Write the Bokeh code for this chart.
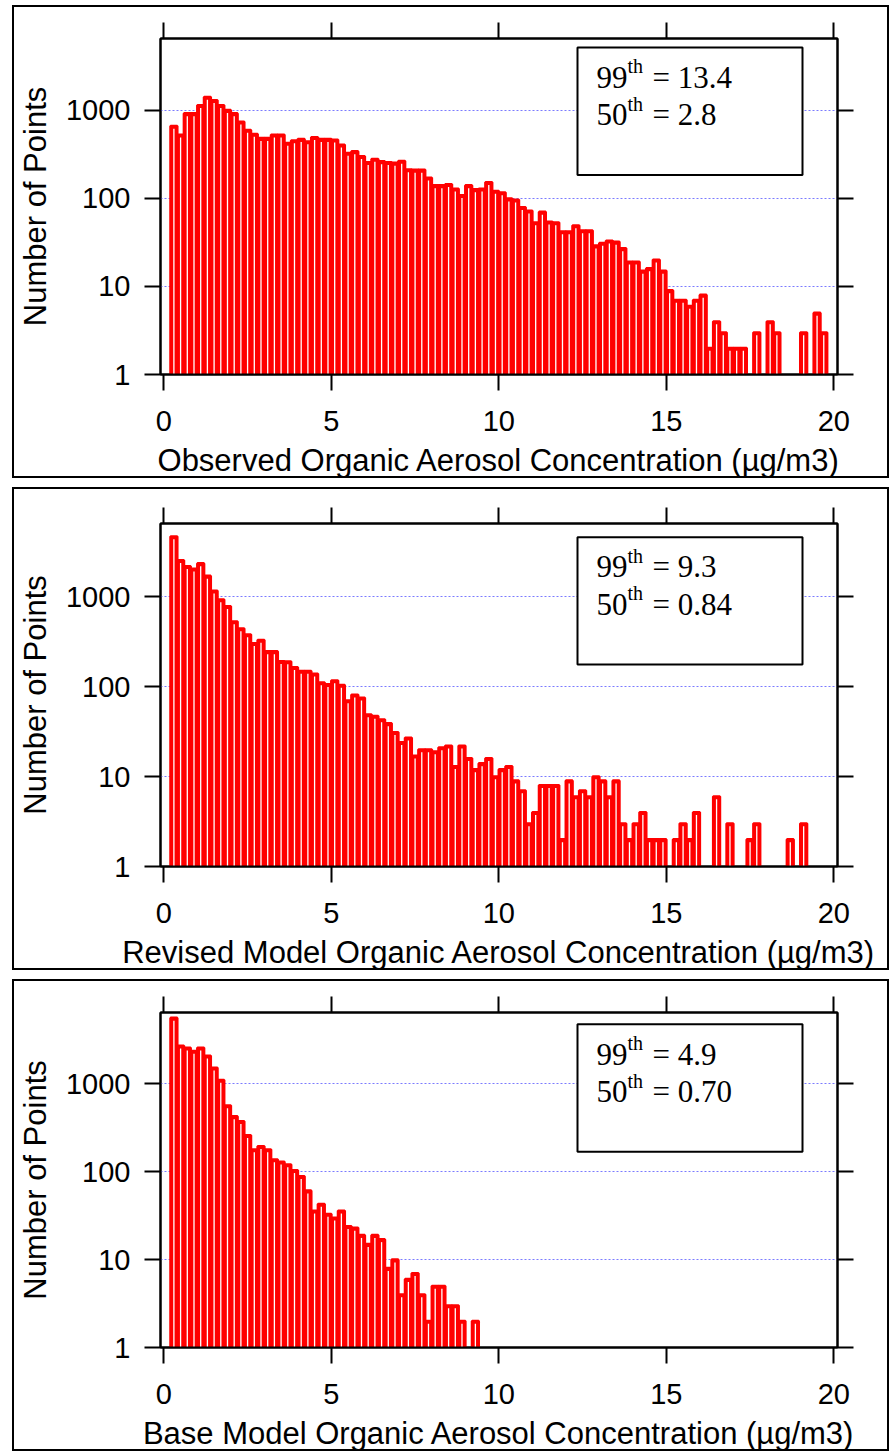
import math
from bokeh.plotting import figure
from bokeh.models import (ColumnDataSource, LinearAxis, LogAxis, FixedTicker,
                          PrintfTickFormatter, Range1d)
from bokeh.layouts import column
from bokeh.embed import file_html
from bokeh.resources import INLINE
from bokeh.core.properties import value

# ---------------- data ----------------
BIN_WIDTH = 0.2
bin_lefts = [round(BIN_WIDTH * i, 1) for i in range(100)]

observed_counts = [
    0, 660, 525, 918, 918, 1137, 1410, 1295, 1137, 1000,
    918, 739, 596, 537, 481, 481, 525, 525, 423, 452,
    469, 440, 493, 469, 469, 460, 404, 326, 340, 299,
    256, 279, 262, 256, 252, 265, 212, 210, 210, 171,
    140, 140, 144, 128, 108, 140, 126, 128, 152, 121,
    116, 99, 96, 79, 72, 53, 70, 54, 53, 42,
    42, 49, 43, 43, 29, 31, 33, 32, 27, 19,
    19, 15, 16, 20, 15, 9, 7, 7, 6, 7,
    8, 2, 4, 3, 2, 2, 2, 0, 3, 0,
    4, 3, 0, 0, 0, 3, 0, 5, 3, 0]

revised_counts = [
    0, 4650, 2540, 2180, 2040, 2340, 1700, 1160, 930, 780,
    530, 443, 380, 303, 330, 246, 246, 191, 190, 164,
    149, 149, 139, 111, 106, 117, 104, 70, 81, 75,
    49, 47, 43, 39, 31, 24, 27, 17, 20, 20,
    19, 21, 22, 13, 22, 16, 12, 14, 16, 10,
    12, 13, 9, 7, 3, 4, 8, 8, 8, 2,
    9, 6, 7, 6, 10, 9, 6, 9, 3, 2,
    3, 4, 2, 2, 2, 0, 2, 3, 2, 4,
    0, 0, 6, 0, 3, 0, 0, 2, 3, 0,
    0, 0, 0, 2, 0, 3, 0, 0, 0, 0]

base_counts = [
    0, 5640, 2720, 2580, 2370, 2580, 2090, 1530, 1110, 569,
    427, 375, 260, 179, 195, 179, 138, 130, 121, 104,
    89, 61, 36, 43, 33, 30, 36, 24, 23, 19,
    15, 19, 17, 8, 10, 4, 6, 7, 4, 2,
    5, 5, 3, 3, 2, 0, 2, 0, 0, 0,
    0, 0, 0, 0, 0, 0, 0, 0, 0, 0,
    0, 0, 0, 0, 0, 0, 0, 0, 0, 0,
    0, 0, 0, 0, 0, 0, 0, 0, 0, 0,
    0, 0, 0, 0, 0, 0, 0, 0, 0, 0,
    0, 0, 0, 0, 0, 0, 0, 0, 0, 0]

x_titles = ["Observed Organic Aerosol Concentration (\u00b5g/m3)",
            "Revised Model Organic Aerosol Concentration (\u00b5g/m3)",
            "Base Model Organic Aerosol Concentration (\u00b5g/m3)"]
p99_values = ["13.4", "9.3", "4.9"]
p50_values = ["2.8", "0.84", "0.70"]
x_ticks = [0, 5, 10, 15, 20]
y_ticks = [1, 10, 100, 1000]
grid_ticks = [10, 100, 1000]
y_title = "Number of Points"

# ---------------- style / layout ----------------
XMIN, XMAX = -0.1, 20.11
YMIN, YMAX = 1, 6500
FRAME_W = 677
FIG_W = 877            # outer panel width (border drawn inside via CSS)
BORDER_LEFT, BORDER_RIGHT = 146, 54
SANS = "Liberation Sans"
SERIF = "Liberation Serif"
RED = "#ff0000"


def style_axis(ax, labels=True):
    ax.axis_line_width = 2
    ax.axis_line_color = "black"
    ax.major_tick_line_width = 2
    ax.major_tick_line_color = "black"
    ax.major_tick_out = 16
    ax.major_tick_in = 0
    ax.minor_tick_out = 0
    ax.minor_tick_in = 0
    ax.major_label_text_font = SANS
    ax.axis_label_text_font = SANS
    ax.axis_label_text_font_style = "normal"
    ax.axis_label_text_color = "black"
    if labels:
        ax.major_label_text_color = "black"
        ax.major_label_text_font_size = "29px"
        ax.axis_label_text_font_size = "31px"
    else:
        ax.major_label_text_color = None
        ax.major_label_text_font_size = "10px"
        ax.major_label_standoff = 0


def make_panel(counts, xtitle, v99, v50, frame_h, b_top, b_bottom, box_top, box_bottom):
    H = b_top + frame_h + b_bottom + 4
    p = figure(width=FIG_W, height=H, y_axis_type="log",
               x_range=Range1d(XMIN, XMAX), y_range=Range1d(YMIN, YMAX),
               output_backend="svg", toolbar_location=None,
               min_border_left=BORDER_LEFT, min_border_right=BORDER_RIGHT,
               min_border_top=b_top, min_border_bottom=b_bottom + 4,
               background_fill_color="white", border_fill_color="white",
               outline_line_color="black", outline_line_width=2,
               styles={"border": "2px solid black"})

    px_per_x = FRAME_W / (XMAX - XMIN)
    px_per_dec = frame_h / (math.log10(YMAX) - math.log10(YMIN))

    def xd(px):  # pixels from the frame's left edge -> data x
        return XMIN + px / px_per_x

    def yd(px):  # pixels below the frame's top edge -> data y
        return 10 ** (math.log10(YMAX) - px / px_per_dec)

    # bars
    lefts, rights, tops, cents = [], [], [], []
    for l, c in zip(bin_lefts, counts):
        if c > 0:
            lefts.append(l)
            rights.append(l + BIN_WIDTH)
            tops.append(c)
            cents.append(l + BIN_WIDTH / 2)
    half = 0.65 / px_per_x
    drop = 10 ** (-2.8 / px_per_dec)
    src = ColumnDataSource(dict(left=lefts, right=rights, top=tops,
                                bottom=[0.5] * len(tops),
                                sl=[c - half for c in cents],
                                sr=[c + half for c in cents],
                                st=[t * drop for t in tops]))
    p.quad(left="left", right="right", top="top", bottom="bottom", source=src,
           fill_color=RED, line_color=RED, line_width=2.6)
    p.quad(left="sl", right="sr", top="st", bottom="bottom", source=src,
           fill_color="white", line_color=None)

    # grid
    p.xgrid.visible = False
    p.ygrid.ticker = FixedTicker(ticks=grid_ticks)
    p.ygrid.grid_line_color = "#7b7bff"
    p.ygrid.grid_line_dash = "2 2"
    p.ygrid.grid_line_width = 1

    # axes
    xa = p.xaxis[0]
    xa.ticker = FixedTicker(ticks=x_ticks)
    style_axis(xa)
    xa.axis_label = xtitle
    xa.major_label_standoff = 20
    xa.axis_label_standoff = 9

    ya = p.yaxis[0]
    ya.ticker = FixedTicker(ticks=y_ticks)
    ya.formatter = PrintfTickFormatter(format="%d")
    style_axis(ya)
    ya.axis_label = y_title
    ya.major_label_standoff = 14
    ya.axis_label_standoff = 10

    top_ax = LinearAxis(ticker=FixedTicker(ticks=x_ticks))
    style_axis(top_ax, labels=False)
    p.add_layout(top_ax, "above")
    right_ax = LogAxis(ticker=FixedTicker(ticks=y_ticks))
    style_axis(right_ax, labels=False)
    p.add_layout(right_ax, "right")

    # percentile box
    bl, br = 417, 642
    p.quad(left=[xd(bl)], right=[xd(br)], top=[yd(box_top)], bottom=[yd(box_bottom)],
           fill_color="white", line_color="black", line_width=2)
    big = dict(text_font=value(SERIF), text_font_size="31px", text_color="black",
               text_baseline="middle", text_align="left")
    small = dict(text_font=value(SERIF), text_font_size="20px", text_color="black",
                 text_baseline="middle", text_align="left")
    lines = [("99", v99, 30), ("50", v50, 68)]
    for num, val, mid in lines:
        p.text(x=[xd(bl + 19)], y=[yd(box_top + mid)], text=[num], **big)
        p.text(x=[xd(bl + 50)], y=[yd(box_top + mid - 11)], text=["th"], **small)
        p.text(x=[xd(bl + 75)], y=[yd(box_top + mid)], text=["= " + val], **big)
    return p


p1 = make_panel(observed_counts, x_titles[0], p99_values[0], p50_values[0],
                340, 31, 98, 9, 138)
p2 = make_panel(revised_counts, x_titles[1], p99_values[1], p50_values[1],
                348, 34, 97, 14, 143)
p3 = make_panel(base_counts, x_titles[2], p99_values[2], p50_values[2],
                339, 31, 98, 12, 141)

layout = column(p1, p2, p3, spacing=9,
                styles={"margin-left": "12px", "margin-top": "5px"})

open("out.html", "w").write(file_html(layout, INLINE))
